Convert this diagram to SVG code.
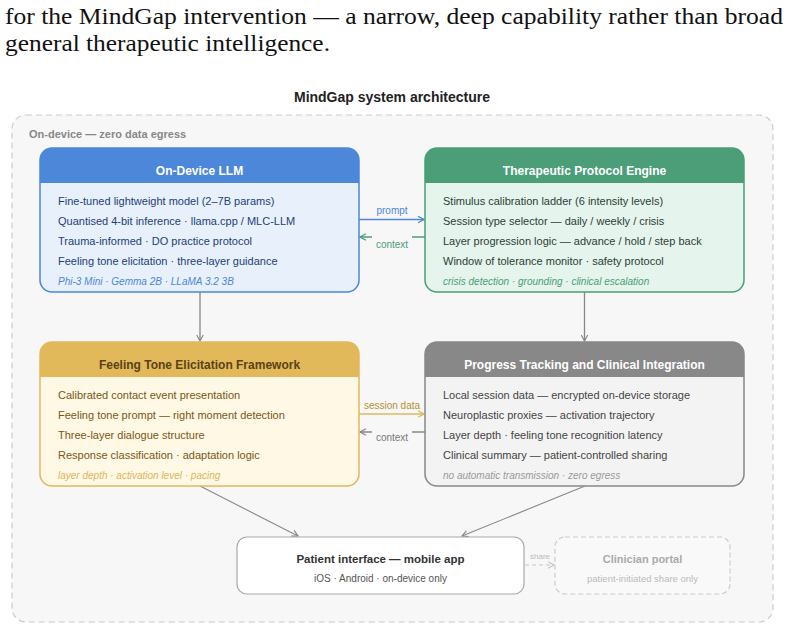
<svg xmlns="http://www.w3.org/2000/svg" width="788" height="629" viewBox="0 0 788 629">
<defs>
<style>
.para{font-family:"Liberation Serif","Times New Roman",serif;font-size:22.5px;fill:#111}
.sans{font-family:"Liberation Sans",Arial,Helvetica,sans-serif}
.title{font-size:14px;font-weight:bold;fill:#222}
.zone{font-size:11px;font-weight:bold;fill:#888}
.htitle{font-size:12px;font-weight:bold;text-anchor:middle}
.body{font-size:11px}
.note{font-size:10px;font-style:italic}
.lbl{font-size:10px;text-anchor:middle}
</style>
<marker id="ah-blue" viewBox="0 0 8 8" refX="7" refY="4" markerWidth="8" markerHeight="8" markerUnits="userSpaceOnUse" orient="auto"><path d="M1,0.8 L7,4 L1,7.2" fill="none" stroke="#4d87d9" stroke-width="1.3"/></marker>
<marker id="ah-green" viewBox="0 0 8 8" refX="7" refY="4" markerWidth="8" markerHeight="8" markerUnits="userSpaceOnUse" orient="auto"><path d="M1,0.8 L7,4 L1,7.2" fill="none" stroke="#4b9e77" stroke-width="1.3"/></marker>
<marker id="ah-yellow" viewBox="0 0 8 8" refX="7" refY="4" markerWidth="8" markerHeight="8" markerUnits="userSpaceOnUse" orient="auto"><path d="M1,0.8 L7,4 L1,7.2" fill="none" stroke="#e1b95b" stroke-width="1.3"/></marker>
<marker id="ah-gray" viewBox="0 0 8 8" refX="7" refY="4" markerWidth="8" markerHeight="8" markerUnits="userSpaceOnUse" orient="auto"><path d="M1,0.8 L7,4 L1,7.2" fill="none" stroke="#888" stroke-width="1.2"/></marker>
<marker id="ah-light" viewBox="0 0 8 8" refX="7" refY="4" markerWidth="8" markerHeight="8" markerUnits="userSpaceOnUse" orient="auto"><path d="M1,0.8 L7,4 L1,7.2" fill="none" stroke="#c8c8c8" stroke-width="1.2"/></marker>
</defs>
<rect width="788" height="629" fill="#ffffff"/>

<text class="para" x="5" y="24" textLength="778" lengthAdjust="spacingAndGlyphs">for the MindGap intervention — a narrow, deep capability rather than broad</text>
<text class="para" x="5" y="51" textLength="325" lengthAdjust="spacingAndGlyphs">general therapeutic intelligence.</text>

<text class="sans title" x="392" y="102" text-anchor="middle">MindGap system architecture</text>

<g id="zone">
<rect x="12" y="115" width="761" height="507" rx="14" fill="#f7f7f7" stroke="#cccccc" stroke-width="1.2" stroke-dasharray="6,4"/>
<text class="sans zone" x="29" y="138">On-device — zero data egress</text>
</g>

<g id="connectors" fill="none" stroke-width="1.3">
<line x1="359" y1="219.5" x2="424" y2="219.5" stroke="#4d87d9" marker-end="url(#ah-blue)"/>
<line x1="425" y1="237" x2="360" y2="237" stroke="#4b9e77" marker-end="url(#ah-green)"/>
<rect x="372" y="235" width="40" height="16" fill="#f7f7f7" stroke="none"/>
<line x1="359" y1="414" x2="424" y2="414" stroke="#e1b95b" stroke-width="1.6" marker-end="url(#ah-yellow)"/>
<line x1="425" y1="432" x2="360" y2="432" stroke="#888" marker-end="url(#ah-gray)"/>
<rect x="372" y="430" width="40" height="16" fill="#f7f7f7" stroke="none"/>
<line x1="200" y1="292" x2="200" y2="341" stroke="#888" marker-end="url(#ah-gray)"/>
<line x1="584.5" y1="291" x2="584.5" y2="341" stroke="#888" marker-end="url(#ah-gray)"/>
<line x1="200" y1="486" x2="298" y2="536" stroke="#888" stroke-width="1.1" marker-end="url(#ah-gray)"/>
<line x1="585" y1="486" x2="462" y2="536" stroke="#888" stroke-width="1.1" marker-end="url(#ah-gray)"/>
<line x1="525" y1="565" x2="554" y2="565" stroke="#c8c8c8" stroke-width="1.2" stroke-dasharray="4,3" marker-end="url(#ah-light)"/>
<text class="sans lbl" x="392" y="214" fill="#4d87d9" stroke="none">prompt</text>
<text class="sans lbl" x="392" y="247.5" fill="#4b9e77" stroke="none">context</text>
<text class="sans lbl" x="392" y="408.5" fill="#b8912f" stroke="none">session data</text>
<text class="sans lbl" x="392" y="441" fill="#777" stroke="none">context</text>
<text class="sans" x="540" y="558.5" font-size="8" text-anchor="middle" fill="#bbbbbb" stroke="none">share</text>
</g>

<g id="llm">
<rect x="40" y="148" width="319" height="144" rx="12" fill="#e7f0fb"/>
<path d="M40,183 V160 A12,12 0 0 1 52,148 H347 A12,12 0 0 1 359,160 V183 Z" fill="#4d87d9"/>
<rect x="40" y="148" width="319" height="144" rx="12" fill="none" stroke="#4d87d9" stroke-width="1.5"/>
<text class="sans htitle" x="199.5" y="174.5" fill="#ffffff">On-Device LLM</text>
<g class="sans body" fill="#1f4177">
<text x="58" y="205">Fine-tuned lightweight model (2–7B params)</text>
<text x="58" y="225">Quantised 4-bit inference · llama.cpp / MLC-LLM</text>
<text x="58" y="245">Trauma-informed · DO practice protocol</text>
<text x="58" y="265">Feeling tone elicitation · three-layer guidance</text>
</g>
<text class="sans note" x="58" y="284.5" fill="#4d87d9">Phi-3 Mini · Gemma 2B · LLaMA 3.2 3B</text>
</g>

<g id="protocol">
<rect x="425" y="148" width="319" height="144" rx="12" fill="#e5f4ec"/>
<path d="M425,183 V160 A12,12 0 0 1 437,148 H732 A12,12 0 0 1 744,160 V183 Z" fill="#4b9e77"/>
<rect x="425" y="148" width="319" height="144" rx="12" fill="none" stroke="#4b9e77" stroke-width="1.5"/>
<text class="sans htitle" x="584.5" y="174.5" fill="#ffffff">Therapeutic Protocol Engine</text>
<g class="sans body" fill="#2c3f35">
<text x="443" y="205">Stimulus calibration ladder (6 intensity levels)</text>
<text x="443" y="225">Session type selector — daily / weekly / crisis</text>
<text x="443" y="245">Layer progression logic — advance / hold / step back</text>
<text x="443" y="265">Window of tolerance monitor · safety protocol</text>
</g>
<text class="sans note" x="443" y="284.5" fill="#4b9e77">crisis detection · grounding · clinical escalation</text>
</g>

<g id="feeling">
<rect x="40" y="342" width="319" height="144" rx="12" fill="#fef8e4"/>
<path d="M40,377 V354 A12,12 0 0 1 52,342 H347 A12,12 0 0 1 359,354 V377 Z" fill="#e1b95b"/>
<rect x="40" y="342" width="319" height="144" rx="12" fill="none" stroke="#e1b95b" stroke-width="1.5"/>
<text class="sans htitle" x="199.5" y="368.5" fill="#5a4215">Feeling Tone Elicitation Framework</text>
<g class="sans body" fill="#7a5716">
<text x="58" y="399">Calibrated contact event presentation</text>
<text x="58" y="419">Feeling tone prompt — right moment detection</text>
<text x="58" y="439">Three-layer dialogue structure</text>
<text x="58" y="459">Response classification · adaptation logic</text>
</g>
<text class="sans note" x="58" y="478.5" fill="#dcb660">layer depth · activation level · pacing</text>
</g>

<g id="progress">
<rect x="425" y="342" width="319" height="144" rx="12" fill="#f3f3f3"/>
<path d="M425,377 V354 A12,12 0 0 1 437,342 H732 A12,12 0 0 1 744,354 V377 Z" fill="#888888"/>
<rect x="425" y="342" width="319" height="144" rx="12" fill="none" stroke="#888888" stroke-width="1.5"/>
<text class="sans htitle" x="584.5" y="368.5" fill="#ffffff">Progress Tracking and Clinical Integration</text>
<g class="sans body" fill="#444444">
<text x="443" y="399">Local session data — encrypted on-device storage</text>
<text x="443" y="419">Neuroplastic proxies — activation trajectory</text>
<text x="443" y="439">Layer depth · feeling tone recognition latency</text>
<text x="443" y="459">Clinical summary — patient-controlled sharing</text>
</g>
<text class="sans note" x="443" y="478.5" fill="#999999">no automatic transmission · zero egress</text>
</g>

<g id="patient">
<rect x="237" y="537" width="287" height="57" rx="10" fill="#ffffff" stroke="#aaaaaa" stroke-width="1.2"/>
<text class="sans" x="380.5" y="563" font-size="11.5" font-weight="bold" text-anchor="middle" fill="#333">Patient interface — mobile app</text>
<text class="sans" x="380.5" y="582" font-size="10" text-anchor="middle" fill="#555">iOS · Android · on-device only</text>
</g>

<g id="clinician">
<rect x="555" y="537" width="175" height="57" rx="10" fill="#f9f9f9" stroke="#cccccc" stroke-width="1.2" stroke-dasharray="5,3"/>
<text class="sans" x="642.5" y="563" font-size="11" font-weight="bold" text-anchor="middle" fill="#aaaaaa">Clinician portal</text>
<text class="sans" x="642.5" y="582" font-size="9.5" text-anchor="middle" fill="#bbbbbb">patient-initiated share only</text>
</g>
</svg>
